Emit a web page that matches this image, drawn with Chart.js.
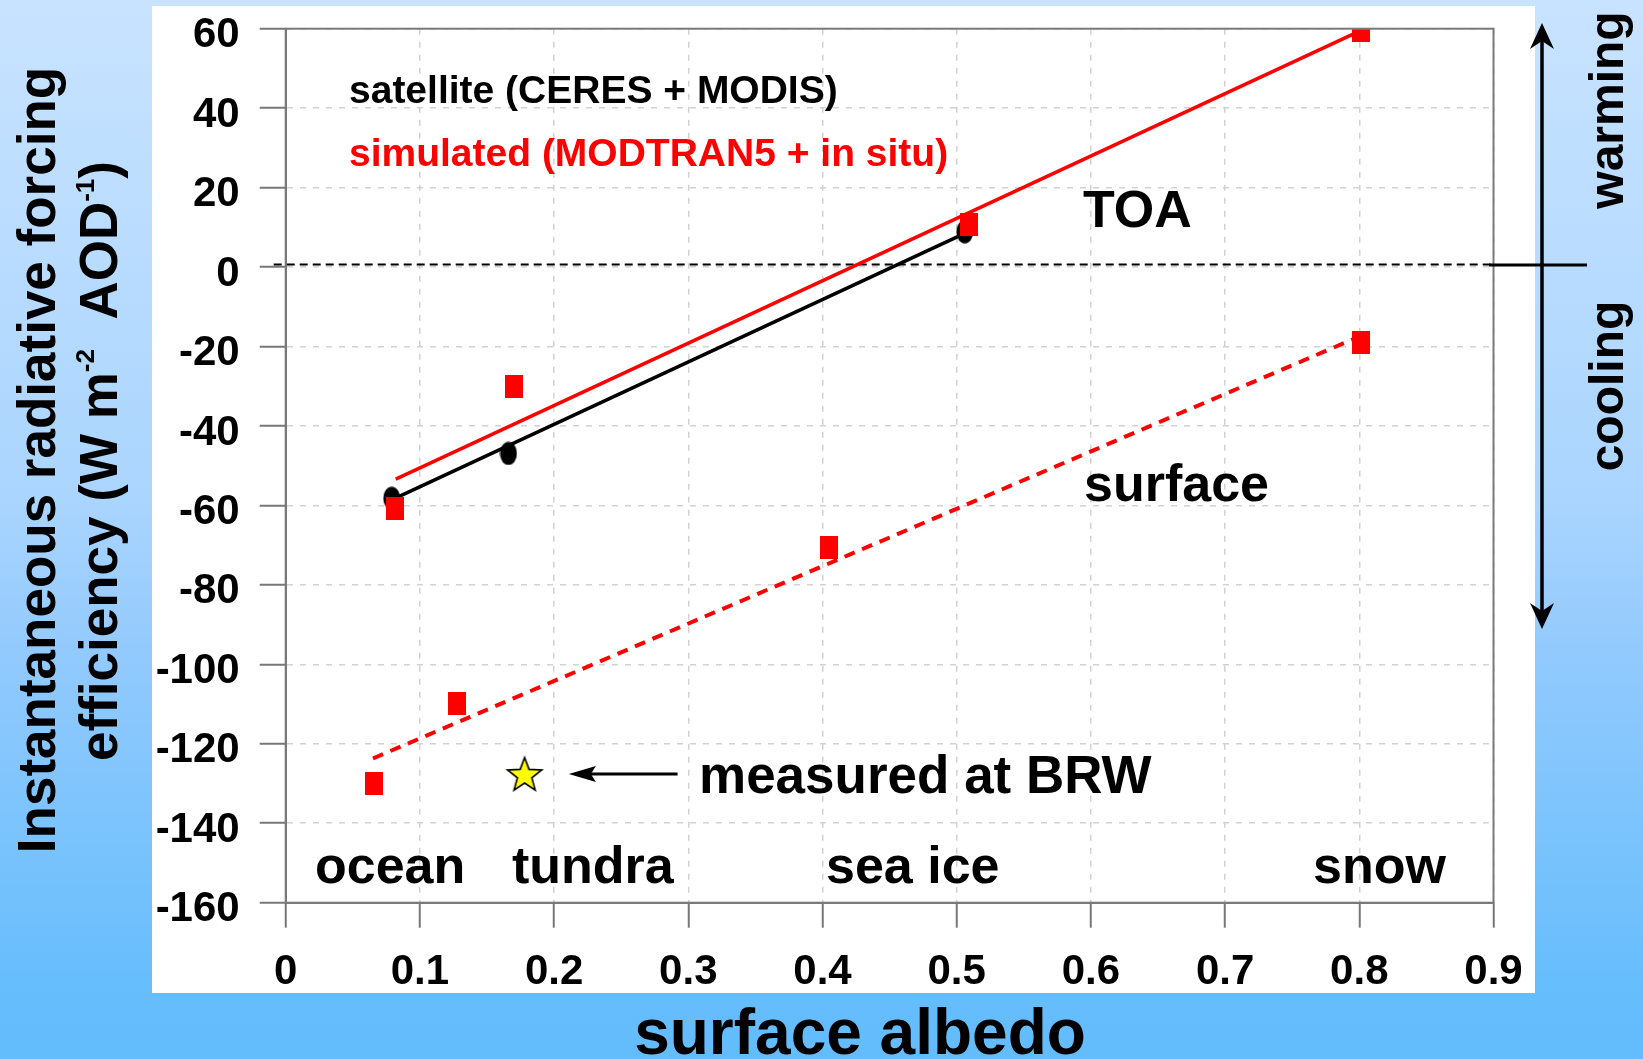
<!DOCTYPE html>
<html>
<head>
<meta charset="utf-8">
<script src="https://cdn.jsdelivr.net/npm/chart.js@4.4.1/dist/chart.umd.min.js"></script>
<style>
html,body{margin:0;padding:0;overflow:hidden;background:#fff;}
#wrap{width:1643px;height:1059px;position:relative;}
canvas{display:block;}
</style>
</head>
<body>
<div id="wrap"><canvas id="c" width="1643" height="1059"></canvas></div>
<script>
// ---------------- data ----------------
const xTickValues = [0, 0.1, 0.2, 0.3, 0.4, 0.5, 0.6, 0.7, 0.8, 0.9];
const xTickLabels = ['0', '0.1', '0.2', '0.3', '0.4', '0.5', '0.6', '0.7', '0.8', '0.9'];
const yTickValues = [-160, -140, -120, -100, -80, -60, -40, -20, 0, 20, 40, 60];
const yTickLabels = ['-160', '-140', '-120', '-100', '-80', '-60', '-40', '-20', '0', '20', '40', '60'];

// satellite (CERES + MODIS), TOA
const satelliteAlbedo = [0.079, 0.166, 0.506];
const satelliteForcing = [-58.2, -46.9, 8.9];
// simulated (MODTRAN5 + in situ), TOA
const simToaAlbedo = [0.0815, 0.170, 0.509, 0.801];
const simToaForcing = [-60.7, -30.1, 10.6, 59.5];
// simulated, surface
const simSurfAlbedo = [0.066, 0.128, 0.405, 0.801];
const simSurfForcing = [-130.0, -109.8, -70.5, -19.0];
// fit lines
const satFitAlbedo = [0.079, 0.506];
const satFitForcing = [-58.6, 8.5];
const toaFitAlbedo = [0.082, 0.801];
const toaFitForcing = [-53.4, 59.5];
const surfFitAlbedo = [0.065, 0.800];
const surfFitForcing = [-123.7, -17.5];
// measured at BRW
const brwAlbedo = [0.178];
const brwForcing = [-127.6];

const surfaceTypes = ['ocean', 'tundra', 'sea ice', 'snow'];

// ---------------- helpers ----------------
const FONT = '"Liberation Sans", Arial, Helvetica, sans-serif';
const toPts = (xs, ys) => xs.map((x, i) => ({x: x, y: ys[i]}));

function makeEllipse(w, h, color) {
  const c = document.createElement('canvas'); c.width = w; c.height = h;
  const g = c.getContext('2d'); g.fillStyle = color;
  g.beginPath(); g.ellipse(w / 2, h / 2, w / 2 - 0.5, h / 2 - 0.5, 0, 0, Math.PI * 2); g.fill();
  return c;
}
function makeRect(w, h, color) {
  const c = document.createElement('canvas'); c.width = w; c.height = h;
  const g = c.getContext('2d'); g.fillStyle = color; g.fillRect(0, 0, w, h);
  return c;
}
function makeStar(r) {
  const s = Math.ceil(2 * r + 4);
  const c = document.createElement('canvas'); c.width = s; c.height = s;
  const g = c.getContext('2d');
  g.beginPath();
  for (let i = 0; i < 10; i++) {
    const rr = i % 2 === 0 ? r : r * 0.42;
    const a = -Math.PI / 2 + i * Math.PI / 5;
    const px = s / 2 + rr * Math.cos(a), py = s / 2 + 1.5 + rr * Math.sin(a);
    if (i === 0) g.moveTo(px, py); else g.lineTo(px, py);
  }
  g.closePath();
  g.fillStyle = '#ffff00'; g.fill();
  g.lineWidth = 1.6; g.strokeStyle = '#000'; g.lineJoin = 'miter'; g.stroke();
  return c;
}
const ellipseImg = makeEllipse(18, 24, '#000');
const squareImg = makeRect(18, 23, '#ff0000');
const starImg = makeStar(18);

function drawRich(ctx, parts, x, y, rot, align) {
  ctx.save();
  ctx.translate(x, y);
  ctx.rotate(rot);
  let total = 0;
  parts.forEach(p => {
    ctx.font = 'bold ' + p.size + 'px ' + FONT;
    p.w = ctx.measureText(p.t).width; total += p.w;
  });
  let cx = align === 'center' ? -total / 2 : 0;
  ctx.textAlign = 'left'; ctx.textBaseline = 'alphabetic';
  parts.forEach(p => {
    ctx.font = 'bold ' + p.size + 'px ' + FONT;
    ctx.fillStyle = p.color || '#000';
    ctx.fillText(p.t, cx, -(p.rise || 0));
    cx += p.w;
  });
  ctx.restore();
}
function text(ctx, t, x, y, size, color, align) {
  ctx.font = 'bold ' + size + 'px ' + FONT;
  ctx.fillStyle = color || '#000';
  ctx.textAlign = align || 'left';
  ctx.textBaseline = 'alphabetic';
  ctx.fillText(t, x, y);
}
function arrowHead(ctx, tx, ty, dx, dy, len, half, notch) {
  const nx = -dy, ny = dx;
  ctx.beginPath();
  ctx.moveTo(tx, ty);
  ctx.lineTo(tx - dx * len + nx * half, ty - dy * len + ny * half);
  ctx.lineTo(tx - dx * notch, ty - dy * notch);
  ctx.lineTo(tx - dx * len - nx * half, ty - dy * len - ny * half);
  ctx.closePath();
  ctx.fill();
}

// ---------------- plugins ----------------
const decor = {
  id: 'decor',
  beforeDraw(chart) {
    const ctx = chart.ctx;
    const g = ctx.createLinearGradient(0, 0, 0, 1059);
    g.addColorStop(0, '#c8e3ff');
    g.addColorStop(0.47, '#aad5fe');
    g.addColorStop(0.61, '#93cafd');
    g.addColorStop(0.94, '#65bdfc');
    g.addColorStop(1, '#63bcfc');
    ctx.save();
    ctx.fillStyle = g; ctx.fillRect(0, 0, 1643, 1059);
    ctx.fillStyle = '#ffffff'; ctx.fillRect(152, 6, 1383, 987);
    ctx.restore();
  },
  beforeDatasetsDraw(chart) {
    const ctx = chart.ctx, a = chart.chartArea, ys = chart.scales.y;
    const y0 = ys.getPixelForValue(0) - 2.5;
    ctx.save();
    ctx.strokeStyle = '#000'; ctx.lineWidth = 2; ctx.setLineDash([8, 5]);
    ctx.beginPath(); ctx.moveTo(a.left - 12, y0); ctx.lineTo(a.right, y0); ctx.stroke();
    ctx.restore();
  },
  afterDraw(chart) {
    const ctx = chart.ctx, a = chart.chartArea, xs = chart.scales.x, ys = chart.scales.y;
    ctx.save();
    // plot frame
    ctx.strokeStyle = '#7a7a7a'; ctx.lineWidth = 2; ctx.setLineDash([]);
    ctx.strokeRect(a.left, a.top, a.right - a.left, a.bottom - a.top);

    // legend texts
    text(ctx, 'satellite (CERES + MODIS)', 349, 103, 39, '#000');
    text(ctx, 'simulated (MODTRAN5 + in situ)', 349, 166, 39, '#ff0000');
    // labels
    text(ctx, 'TOA', 1083, 227, 52, '#000');
    text(ctx, 'surface', 1084, 501, 52, '#000');
    text(ctx, 'measured at BRW', 699, 793, 53, '#000');
    const typeX = [315, 512, 826, 1313];
    surfaceTypes.forEach((t, i) => text(ctx, t, typeX[i], 883, 52, '#000'));

    // arrow to BRW star
    const ay = ys.getPixelForValue(brwForcing[0]);
    const tipX = xs.getPixelForValue(0.211), tailX = xs.getPixelForValue(0.292);
    ctx.strokeStyle = '#000'; ctx.fillStyle = '#000'; ctx.lineWidth = 3;
    ctx.beginPath(); ctx.moveTo(tailX, ay); ctx.lineTo(tipX + 15, ay); ctx.stroke();
    arrowHead(ctx, tipX, ay, -1, 0, 27, 8, 22);

    // axis titles
    text(ctx, 'surface albedo', 860, 1054, 64, '#000', 'center');
    drawRich(ctx, [{t: 'Instantaneous radiative forcing', size: 53}], 55, 460, -Math.PI / 2, 'center');
    drawRich(ctx, [
      {t: 'efficiency (W m', size: 53},
      {t: '-2', size: 26, rise: 23},
      {t: '  AOD', size: 53},
      {t: '-1', size: 26, rise: 23},
      {t: ')', size: 53}
    ], 117, 461, -Math.PI / 2, 'center');

    // warming / cooling indicator
    const ax = 1542;
    ctx.lineWidth = 3.5; ctx.strokeStyle = '#000'; ctx.fillStyle = '#000';
    ctx.beginPath(); ctx.moveTo(ax, 40); ctx.lineTo(ax, 612); ctx.stroke();
    arrowHead(ctx, ax, 23, 0, -1, 26, 12, 18);
    arrowHead(ctx, ax, 629, 0, 1, 26, 12, 18);
    ctx.lineWidth = 3;
    ctx.beginPath(); ctx.moveTo(1489, 265); ctx.lineTo(1587, 265); ctx.stroke();
    drawRich(ctx, [{t: 'warming', size: 48}], 1623, 110, -Math.PI / 2, 'center');
    drawRich(ctx, [{t: 'cooling', size: 48}], 1623, 386, -Math.PI / 2, 'center');
    ctx.restore();
  }
};

// ---------------- chart ----------------
const gridCommon = {
  color: '#d2d2d2',
  lineWidth: 1.5,
  tickColor: '#777777',
  tickWidth: 2,
  tickBorderDash: [],
  borderDash: [6, 7]
};

new Chart(document.getElementById('c').getContext('2d'), {
  type: 'scatter',
  data: {
    datasets: [
      {label: 'simulated TOA', data: toPts(simToaAlbedo, simToaForcing), pointStyle: squareImg, pointRadius: 12, order: 1, showLine: false},
      {label: 'simulated surface', data: toPts(simSurfAlbedo, simSurfForcing), pointStyle: squareImg, pointRadius: 12, order: 1, showLine: false},
      {label: 'measured at BRW', data: toPts(brwAlbedo, brwForcing), pointStyle: starImg, pointRadius: 18, order: 1, showLine: false},
      {label: 'satellite', data: toPts(satelliteAlbedo, satelliteForcing), pointStyle: ellipseImg, pointRadius: 12, order: 2, showLine: false},
      {label: 'satellite fit', data: toPts(satFitAlbedo, satFitForcing), showLine: true, borderColor: '#000', borderWidth: 3.5, pointRadius: 0, order: 3},
      {label: 'TOA fit', data: toPts(toaFitAlbedo, toaFitForcing), showLine: true, borderColor: '#ff0000', borderWidth: 3.5, pointRadius: 0, order: 3},
      {label: 'surface fit', data: toPts(surfFitAlbedo, surfFitForcing), showLine: true, borderColor: '#ff0000', borderWidth: 4, borderDash: [11, 8], pointRadius: 0, order: 3}
    ]
  },
  options: {
    responsive: false,
    devicePixelRatio: 1,
    animation: false,
    events: [],
    layout: {padding: {left: 0, right: 149.5, top: 28.7, bottom: 0}},
    plugins: {legend: {display: false}, tooltip: {enabled: false}, title: {display: false}},
    scales: {
      x: {
        type: 'linear', min: 0, max: 0.9,
        afterBuildTicks: s => { s.ticks = xTickValues.map(v => ({value: v})); },
        afterFit: s => { s.height = 1059 - 902.7; s.paddingLeft = 0; s.paddingRight = 0; },
        ticks: {
          callback: (v, i) => xTickLabels[i],
          font: {family: FONT, size: 42, weight: 'bold'}, color: '#000',
          padding: 20, maxRotation: 0, autoSkip: false
        },
        grid: Object.assign({tickLength: 25}, gridCommon),
        border: {color: '#7a7a7a', width: 2, dash: [6, 7]}
      },
      y: {
        type: 'linear', min: -160, max: 60,
        afterBuildTicks: s => { s.ticks = yTickValues.map(v => ({value: v})); },
        afterFit: s => { s.width = 285.7; s.paddingTop = 0; s.paddingBottom = 0; },
        ticks: {
          callback: (v, i) => yTickLabels[i],
          font: {family: FONT, size: 42, weight: 'bold'}, color: '#000',
          padding: 20, labelOffset: 7, autoSkip: false
        },
        grid: Object.assign({tickLength: 26}, gridCommon),
        border: {color: '#7a7a7a', width: 2, dash: [6, 7]}
      }
    }
  },
  plugins: [decor]
});
</script>
</body>
</html>
